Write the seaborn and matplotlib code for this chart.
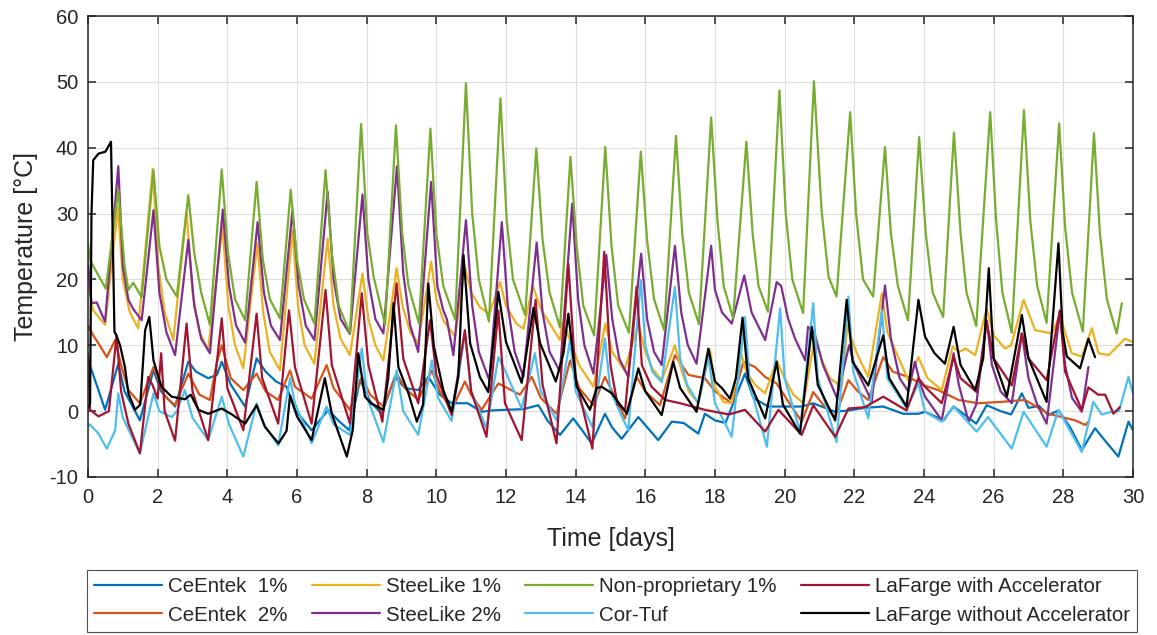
import matplotlib
matplotlib.use("Agg")
import matplotlib.pyplot as plt
import pandas as pd
import seaborn as sns
from matplotlib.lines import Line2D

# ---------------------------------------------------------------------------
# Temperature records (time in days, temperature in degC) for each concrete mix
# ---------------------------------------------------------------------------
ceentek1_t = [0.0, 0.05, 0.3, 0.49, 0.87, 1.05, 1.49, 1.88, 2.1, 2.5, 2.88, 3.1, 3.45, 3.7, 3.84,
              4.1, 4.51, 4.84, 5.1, 5.4, 5.7, 5.94, 6.42, 6.9, 7.2, 7.5, 7.81, 8.1, 8.43, 8.81,
              9.1, 9.48, 9.77, 10.1, 10.44, 10.9, 11.3, 11.6, 11.97, 12.5, 12.93, 13.2, 13.55,
              13.93, 14.2, 14.46, 14.84, 15.05, 15.32, 15.8, 16.37, 16.76, 17.1, 17.52, 17.71,
              18.0, 18.3, 18.86, 19.1, 19.53, 20.0, 20.5, 20.82, 21.45, 21.83, 22.3, 22.83,
              23.4, 23.84, 24.03, 24.56, 24.85, 25.5, 25.8, 26.2, 26.5, 26.81, 27.0, 27.3,
              27.57, 27.86, 28.2, 28.53, 28.91, 29.2, 29.58, 29.87, 30.0]
ceentek1_v = [8.0, 7.0, 3.2, 0.2, 7.2, 3.0, -1.4, 6.2, 3.0, 0.7, 7.5, 6.0, 5.0, 5.5, 7.5,
              4.0, 0.7, 8.0, 6.0, 4.5, 3.7, 0.2, -2.9, 0.2, -1.5, -2.9, 4.7, 1.5, -0.4, 5.2,
              3.5, 3.2, 5.2, 2.5, 1.2, 1.2, -0.1, 0.1, 0.2, 0.3, 0.9, -1.5, -3.6,
              -1.1, -3.0, -4.9, -0.4, -2.5, -4.2, -0.9, -4.4, -1.6, -1.8, -3.4, -0.4,
              -1.4, -1.8, 5.7, 2.0, 0.7, 0.7, 0.7, 1.2, -0.1, 0.1, 0.5, 0.7,
              -0.4, -0.4, -0.1, -1.4, 0.7, -1.9, 0.9, 0.0, -0.5, 2.7, 0.5, 0.8,
              -0.6, 0.1, -2.5, -5.9, -2.6, -4.5, -6.9, -1.6, -2.9]

ceentek2_t = [0.0, 0.15, 0.3, 0.54, 0.78, 0.95, 1.16, 1.49, 1.88, 2.21, 2.5, 2.88, 3.2, 3.5, 3.69,
              3.84, 4.1, 4.46, 4.84, 5.1, 5.46, 5.8, 5.94, 6.42, 6.85, 7.05, 7.52, 7.86, 8.1,
              8.48, 8.86, 9.1, 9.48, 9.87, 10.1, 10.44, 10.82, 11.0, 11.3, 11.78, 11.97, 12.4,
              12.74, 13.0, 13.45, 13.84, 14.1, 14.51, 14.84, 15.05, 15.42, 15.75, 16.0, 16.42,
              16.85, 17.24, 17.71, 18.0, 18.48, 18.82, 19.15, 19.44, 19.77, 20.1, 20.49, 20.82,
              21.1, 21.45, 21.83, 22.1, 22.4, 22.83, 23.1, 23.55, 24.0, 24.41, 24.99, 25.56,
              26.2, 26.9, 27.57, 28.34, 28.63, 28.72]
ceentek2_v = [13.0, 11.5, 10.3, 8.2, 10.8, 7.0, 3.2, 1.2, 6.7, 2.2, 0.9, 5.7, 2.5, 1.7, 7.2,
              10.0, 5.0, 3.2, 5.7, 3.0, 1.7, 6.2, 3.7, 1.9, 7.0, 3.5, 0.2, 5.2, 2.5,
              0.7, 5.7, 3.5, 1.7, 6.2, 3.0, 0.2, 4.5, 2.5, 0.2, 4.2, 3.7, 2.5,
              5.2, 2.0, -0.4, 7.7, 3.5, 0.9, 5.2, 3.0, -1.1, 5.2, 3.0, 0.9,
              8.5, 5.5, 5.0, 3.0, 1.2, 7.5, 6.7, 5.2, 4.2, 1.5, -1.6, 2.9,
              1.0, -0.9, 4.7, 3.0, 1.7, 8.2, 6.0, 5.2, 3.9, 3.2, 1.7, 1.2,
              1.4, 1.7, -0.4, -1.4, -2.1, -1.6]

steelike1_t = [0.0, 0.15, 0.49, 0.86, 1.0, 1.2, 1.44, 1.86, 2.02, 2.2, 2.45, 2.83, 3.0, 3.2, 3.45,
               3.86, 4.03, 4.22, 4.46, 4.86, 5.03, 5.22, 5.51, 5.87, 6.03, 6.22, 6.5, 6.88, 7.05,
               7.25, 7.52, 7.88, 8.05, 8.25, 8.48, 8.86, 9.03, 9.25, 9.48, 9.85, 10.0, 10.2,
               10.54, 10.82, 11.0, 11.25, 11.52, 11.83, 12.0, 12.3, 12.5, 12.77, 13.0, 13.26,
               13.55, 13.62, 13.75, 14.1, 14.51, 14.85, 15.05, 15.4, 15.8, 16.0, 16.2, 16.47,
               16.85, 17.05, 17.25, 17.52, 17.86, 18.0, 18.24, 18.48, 18.72, 18.9, 19.15, 19.44,
               19.77, 20.0, 20.25, 20.54, 20.87, 21.05, 21.3, 21.64, 21.8, 21.95, 22.12, 22.4,
               22.79, 22.95, 23.17, 23.55, 23.84, 24.1, 24.51, 24.82, 25.0, 25.2, 25.47, 25.8,
               26.0, 26.33, 26.5, 26.86, 27.19, 27.67, 27.9, 28.24, 28.53, 28.82, 29.01, 29.3,
               29.77, 30.0]
steelike1_v = [19.4, 15.3, 13.1, 31.0, 20.0, 15.0, 12.6, 36.8, 22.0, 15.0, 10.8, 30.3, 18.0, 12.0, 9.3,
               28.0, 16.0, 10.0, 6.5, 25.5, 15.0, 9.0, 6.2, 27.5, 16.0, 10.0, 7.2, 26.2, 16.0,
               11.0, 8.5, 20.9, 14.0, 10.0, 7.7, 21.7, 16.0, 12.0, 10.3, 22.7, 17.0, 13.8,
               11.3, 21.9, 18.0, 15.8, 14.7, 19.6, 16.0, 13.3, 12.5, 19.0, 15.5, 13.3,
               10.8, 13.5, 12.0, 7.0, 3.7, 13.3, 9.0, 6.2, 13.3, 9.0, 6.5, 4.7,
               10.0, 6.0, 3.0, 1.2, 9.3, 3.7, 1.4, 1.2, 9.3, 6.0, 4.0, 2.7,
               7.7, 5.0, 2.5, 1.2, 11.3, 8.0, 5.0, 3.7, 13.0, 10.5, 8.2, 5.2,
               17.9, 12.0, 9.3, 4.7, 8.2, 5.0, 3.2, 9.8, 9.0, 9.5, 8.5, 15.6,
               11.5, 9.5, 10.0, 16.9, 12.3, 11.8, 14.5, 8.8, 8.3, 12.6, 8.8, 8.5,
               11.0, 10.5]

steelike2_t = [0.0, 0.1, 0.25, 0.49, 0.87, 1.0, 1.16, 1.3, 1.54, 1.88, 2.05, 2.25, 2.5, 2.88, 3.05,
               3.25, 3.5, 3.87, 4.05, 4.25, 4.51, 4.87, 5.05, 5.25, 5.51, 5.87, 6.05, 6.25, 6.5,
               6.88, 7.05, 7.25, 7.52, 7.88, 8.05, 8.25, 8.48, 8.87, 9.05, 9.25, 9.48, 9.85,
               10.03, 10.2, 10.3, 10.49, 10.85, 11.03, 11.22, 11.52, 11.88, 12.05, 12.25, 12.5,
               12.88, 13.05, 13.25, 13.55, 13.9, 14.07, 14.25, 14.51, 14.88, 15.05, 15.25, 15.51,
               15.88, 16.05, 16.25, 16.47, 16.85, 17.03, 17.22, 17.47, 17.89, 18.0, 18.2, 18.48,
               18.84, 19.05, 19.44, 19.77, 19.9, 20.1, 20.3, 20.59, 20.67, 20.85, 21.1, 21.5,
               21.85, 22.0, 22.5, 22.88, 23.05, 23.3, 23.55, 23.74, 23.9, 24.03, 24.51, 24.85,
               25.0, 25.28, 25.5, 25.8, 25.95, 26.2, 26.52, 26.81, 27.0, 27.25, 27.52, 27.9,
               28.05, 28.25, 28.53, 28.72]
steelike2_v = [22.7, 16.4, 16.5, 13.6, 37.2, 22.0, 16.9, 15.5, 13.8, 30.5, 18.0, 12.0, 8.5, 26.0, 16.0,
               11.0, 8.8, 30.6, 19.0, 13.0, 10.4, 28.7, 18.0, 13.0, 10.8, 30.5, 19.0, 13.0, 10.8,
               33.3, 20.0, 14.0, 11.7, 32.9, 20.0, 14.0, 11.8, 37.2, 21.0, 13.0, 9.0, 34.8,
               19.0, 15.3, 14.0, 8.5, 29.0, 16.0, 9.0, 4.7, 28.7, 16.0, 9.0, 5.2,
               25.6, 15.0, 9.0, 6.0, 31.5, 17.0, 10.0, 5.7, 23.7, 14.0, 8.0, 5.2,
               23.9, 14.0, 9.0, 7.0, 25.1, 15.0, 10.0, 7.2, 25.1, 18.4, 15.0, 13.3,
               20.6, 15.0, 10.8, 19.6, 19.0, 14.0, 11.0, 7.7, 12.8, 12.0, 7.0, 2.0,
               10.0, 7.0, 1.5, 19.1, 11.0, 5.0, 3.0, 7.5, 4.0, 2.2, -1.4, 8.8,
               4.0, -1.6, 1.0, 13.8, 7.0, 3.0, 1.2, 11.8, 5.0, 1.0, -1.9, 15.1,
               7.0, 2.0, -0.1, 6.7]

nonprop1_t = [0.0, 0.05, 0.51, 0.87, 1.05, 1.16, 1.3, 1.54, 1.88, 2.05, 2.25, 2.55, 2.88, 3.05, 3.25,
              3.5, 3.84, 4.02, 4.22, 4.51, 4.84, 5.02, 5.22, 5.51, 5.82, 6.0, 6.2, 6.5, 6.82,
              7.0, 7.2, 7.52, 7.84, 8.02, 8.2, 8.53, 8.84, 9.02, 9.2, 9.5, 9.83, 10.0, 10.2,
              10.54, 10.85, 11.03, 11.22, 11.51, 11.84, 12.02, 12.2, 12.55, 12.87, 13.05, 13.25,
              13.55, 13.85, 14.03, 14.22, 14.53, 14.85, 15.03, 15.22, 15.53, 15.87, 16.05, 16.25,
              16.54, 16.88, 17.06, 17.25, 17.54, 17.89, 18.07, 18.25, 18.52, 18.9, 19.08, 19.25,
              19.52, 19.85, 20.03, 20.22, 20.53, 20.84, 21.06, 21.26, 21.49, 21.88, 22.05, 22.25,
              22.54, 22.88, 23.05, 23.25, 23.54, 23.86, 24.05, 24.25, 24.55, 24.86, 25.05, 25.22,
              25.5, 25.9, 26.07, 26.25, 26.52, 26.87, 27.05, 27.25, 27.52, 27.88, 28.05, 28.25,
              28.56, 28.88, 29.05, 29.25, 29.53, 29.68]
nonprop1_v = [25.5, 23.0, 18.6, 33.6, 22.0, 18.4, 19.5, 17.3, 36.6, 25.0, 20.0, 17.4, 32.8, 24.0, 18.0,
              13.1, 36.7, 24.0, 17.0, 13.8, 34.8, 23.0, 17.0, 14.1, 33.6, 23.0, 17.0, 13.3, 36.6,
              24.0, 16.0, 11.8, 43.6, 27.0, 20.4, 13.1, 43.4, 27.0, 19.0, 13.3, 42.9, 27.0, 19.0,
              13.9, 49.8, 30.0, 20.0, 13.6, 47.5, 29.0, 20.0, 14.6, 39.9, 26.0, 18.0,
              12.7, 38.6, 25.0, 16.0, 11.5, 40.1, 25.0, 16.0, 11.9, 39.4, 26.0, 17.0,
              12.3, 41.8, 27.0, 18.0, 13.2, 44.6, 29.0, 19.0, 14.1, 40.9, 27.0, 19.0,
              15.1, 48.7, 30.0, 20.0, 14.9, 50.1, 30.5, 20.4, 17.4, 45.4, 30.0, 20.0,
              17.4, 40.1, 27.0, 19.0, 13.8, 41.6, 27.0, 18.0, 14.3, 42.3, 27.0, 18.0,
              12.9, 45.4, 29.0, 18.0, 11.9, 45.7, 29.0, 19.0, 13.4, 43.7, 28.0, 18.0,
              12.1, 42.2, 27.0, 17.0, 11.8, 16.4]

cortuf_t = [0.0, 0.05, 0.3, 0.54, 0.78, 0.87, 1.0, 1.49, 1.88, 2.05, 2.4, 2.55, 2.78, 3.0, 3.45,
            3.84, 4.05, 4.46, 4.84, 5.05, 5.46, 5.8, 5.94, 6.42, 6.85, 7.05, 7.52, 7.86, 8.02,
            8.48, 8.86, 9.05, 9.48, 9.87, 10.05, 10.44, 10.82, 11.0, 11.44, 11.78, 11.97, 12.45,
            12.83, 13.0, 13.45, 13.84, 14.0, 14.48, 14.84, 15.0, 15.51, 15.87, 16.0, 16.2, 16.47,
            16.85, 17.0, 17.2, 17.52, 17.81, 18.0, 18.48, 18.86, 19.0, 19.49, 19.87, 20.0, 20.44,
            20.82, 20.95, 21.49, 21.83, 21.97, 22.4, 22.79, 22.95, 23.5, 23.84, 24.03, 24.51,
            24.85, 25.51, 25.84, 26.52, 26.86, 27.52, 27.86, 28.53, 28.86, 29.1, 29.4, 29.6,
            29.87, 30.0]
cortuf_v = [-2.4, -2.0, -3.4, -5.7, -2.9, 2.7, -1.0, -6.4, 2.7, 0.0, -0.9, 0.0, 3.2, -1.0, -4.4,
            2.2, -2.0, -6.9, 1.2, -2.0, -5.2, 5.0, 1.2, -4.9, 0.7, -2.0, -3.6, 9.5, 2.0,
            -4.7, 6.2, 0.0, -3.6, 7.7, 2.0, -1.5, 11.8, 3.0, -2.6, 8.2, 6.2, 0.4,
            8.8, 3.0, -1.4, 10.8, 3.0, -2.4, 11.0, 3.0, -2.9, 19.9, 10.0, 6.0, 4.4,
            18.9, 8.0, 4.0, 1.2, 8.2, 1.2, -3.9, 14.3, 4.0, -5.4, 15.6, 5.0, -3.1,
            16.4, 5.0, -4.7, 17.4, 6.0, -1.1, 15.3, 5.0, 0.4, 4.2, -0.1, -1.6,
            0.7, -3.1, -0.9, -5.7, -0.1, -5.4, 0.2, -6.2, 1.4, -0.5, -0.1, 0.0,
            5.2, 2.7]

lafarge_acc_t = [0.0, 0.06, 0.3, 0.6, 0.82, 0.95, 1.16, 1.49, 1.73, 1.85, 2.0, 2.1, 2.2, 2.5, 2.83,
                 3.0, 3.45, 3.84, 4.0, 4.46, 4.84, 5.0, 5.46, 5.77, 5.94, 6.42, 6.82, 7.0, 7.52,
                 7.86, 8.05, 8.45, 8.86, 9.05, 9.48, 9.82, 10.0, 10.44, 10.82, 11.0, 11.44, 11.78,
                 11.97, 12.45, 12.85, 13.05, 13.45, 13.79, 14.0, 14.48, 14.82, 15.0, 15.2, 15.42,
                 15.75, 15.9, 16.18, 16.57, 17.0, 17.71, 18.0, 18.4, 18.86, 19.44, 19.82, 20.49,
                 20.82, 21.45, 21.83, 22.3, 22.83, 23.5, 23.84, 24.03, 24.51, 24.85, 25.05, 25.51,
                 25.8, 26.0, 26.52, 26.81, 27.0, 27.52, 27.9, 28.05, 28.53, 28.72, 29.0, 29.2,
                 29.44, 29.62]
lafarge_acc_v = [8.8, 0.2, -0.8, 0.0, 11.5, 3.0, -1.9, -6.4, 5.2, 4.0, 1.9, 8.8, 0.0, -4.5, 13.3,
                 3.0, -4.4, 14.1, 3.5, -2.9, 14.8, 5.0, -1.9, 15.3, 6.7, -1.9, 18.4, 7.0, -1.9,
                 17.9, 7.0, -1.6, 19.4, 8.0, 1.2, 13.8, 5.5, -0.6, 12.3, 3.0, -3.9, 15.3,
                 1.2, -4.4, 16.9, 4.0, -4.9, 22.4, 5.0, -5.7, 24.2, 7.0, 1.0, 0.2,
                 18.9, 7.0, 3.7, 1.7, 1.2, 0.2, -0.1, -0.5, 0.2, -3.1, 0.2, -3.6,
                 0.9, -3.9, 0.4, 0.6, 2.2, 0.1, 5.0, 3.7, 1.2, 8.2, 5.0, 2.9,
                 13.6, 8.0, 3.9, 11.8, 8.0, 4.7, 15.3, 6.0, 0.2, 3.6, 2.5, 2.5,
                 -0.4, 0.6]

lafarge_noacc_t = [0.0, 0.06, 0.1, 0.15, 0.3, 0.5, 0.66, 0.76, 0.8, 0.92, 1.06, 1.16, 1.35, 1.5, 1.64,
                   1.76, 1.88, 2.11, 2.4, 2.78, 2.95, 3.17, 3.45, 3.84, 4.13, 4.51, 4.84, 5.08, 5.47,
                   5.7, 5.8, 6.0, 6.42, 6.8, 7.0, 7.43, 7.6, 7.76, 7.95, 8.12, 8.48, 8.62, 8.77,
                   8.91, 9.2, 9.44, 9.62, 9.77, 9.93, 10.2, 10.44, 10.63, 10.78, 10.97, 11.25, 11.49,
                   11.78, 12.0, 12.45, 12.79, 12.98, 13.43, 13.65, 13.79, 14.03, 14.41, 14.6, 14.75,
                   15.04, 15.47, 15.8, 16.0, 16.47, 16.8, 17.0, 17.47, 17.81, 18.0, 18.2, 18.43,
                   18.6, 18.79, 18.95, 19.44, 19.77, 19.95, 20.44, 20.78, 20.95, 21.45, 21.78, 21.95,
                   22.4, 22.83, 23.0, 23.5, 23.84, 24.03, 24.3, 24.6, 24.85, 25.05, 25.47, 25.7,
                   25.86, 26.0, 26.38, 26.81, 27.0, 27.52, 27.86, 27.98, 28.1, 28.48, 28.72, 28.91]
lafarge_noacc_v = [0.5, 1.2, 30.0, 38.1, 39.1, 39.4, 40.9, 12.0, 11.7, 10.0, 6.7, 2.7, 0.2, 1.0, 12.3,
                   14.3, 7.7, 3.7, 2.2, 1.8, 2.5, 0.2, -0.4, 0.4, -0.5, -1.9, 0.9, -2.4, -4.9,
                   -3.0, 2.4, -0.8, -4.4, 5.0, -0.4, -6.9, -2.9, 8.8, 2.2, 1.2, 0.2, 5.0, 16.4,
                   6.7, 2.7, -1.6, 1.0, 19.4, 9.8, 3.2, -0.1, 5.2, 23.7, 10.3, 5.2, 2.9,
                   18.1, 10.5, 4.3, 15.7, 10.3, 4.5, 8.8, 14.8, 3.7, 0.2, 3.5, 3.7,
                   2.7, -0.4, 6.5, 3.0, -0.6, 7.5, 3.5, -0.1, 9.5, 4.5, 3.5, 1.9,
                   5.0, 14.2, 5.0, -1.1, 7.5, 1.0, -3.4, 12.8, 4.0, -1.4, 16.9, 7.5,
                   3.9, 11.5, 5.0, 0.7, 16.9, 11.3, 8.8, 7.2, 12.8, 7.0, 3.2, 8.0,
                   21.7, 8.0, 2.2, 14.6, 8.0, 1.4, 25.5, 12.0, 8.3, 6.5, 11.0, 8.2]

mix_names = ["CeEntek  1%", "CeEntek  2%", "SteeLike 1%", "SteeLike 2%",
             "Non-proprietary 1%", "Cor-Tuf", "LaFarge with Accelerator",
             "LaFarge without Accelerator"]
mix_colors = ["#0072BD", "#D95319", "#EDB120", "#7E2F8E",
              "#77AC30", "#4DBEEE", "#A2142F", "#000000"]
mix_data = [(ceentek1_t, ceentek1_v), (ceentek2_t, ceentek2_v),
            (steelike1_t, steelike1_v), (steelike2_t, steelike2_v),
            (nonprop1_t, nonprop1_v), (cortuf_t, cortuf_v),
            (lafarge_acc_t, lafarge_acc_v), (lafarge_noacc_t, lafarge_noacc_v)]

x_ticks = list(range(0, 31, 2))
y_ticks = list(range(-10, 61, 10))

# long-format table for seaborn
df = pd.concat(
    [pd.DataFrame({"Time": t, "Temperature": v, "Mix": name})
     for name, (t, v) in zip(mix_names, mix_data)],
    ignore_index=True)
palette = dict(zip(mix_names, mix_colors))

sns.set_style("ticks")
plt.rcParams["font.family"] = ["Liberation Sans", "DejaVu Sans"]
plt.rcParams["axes.unicode_minus"] = False
axis_color = "#262626"

W, H = 1157, 635
fig = plt.figure(figsize=(W / 100, H / 100), dpi=100)
ax = fig.add_axes([88 / W, 1 - 477 / H, (1133 - 88) / W, (477 - 16) / H])

sns.lineplot(data=df, x="Time", y="Temperature", hue="Mix", hue_order=mix_names,
             palette=palette, estimator=None, sort=False, linewidth=1.6,
             legend=False, ax=ax)

ax.set_xlim(0, 30)
ax.set_ylim(-10, 60)
ax.set_xticks(x_ticks)
ax.set_yticks(y_ticks)
ax.grid(True, color="#dedede", linewidth=0.8)
ax.set_axisbelow(True)
for s in ax.spines.values():
    s.set_visible(True)
    s.set_color(axis_color)
    s.set_linewidth(1.1)
ax.tick_params(direction="in", length=6, width=1.1, color=axis_color,
               top=True, right=True, labelsize=14.5, labelcolor=axis_color)
ax.tick_params(axis="x", pad=8)
ax.tick_params(axis="y", pad=7)
ax.set_xlabel("Time [days]", fontsize=18, color=axis_color, labelpad=14)
ax.set_ylabel("Temperature [°C]", fontsize=18, color=axis_color, labelpad=8)

handles = [Line2D([], [], color=c, linewidth=1.6) for c in mix_colors]
leg = fig.legend(handles, mix_names, loc="center", ncol=4, mode="expand",
                 bbox_to_anchor=(87 / W, 1 - 633 / H, (1137 - 87) / W, 64 / H),
                 fontsize=14.8, handlelength=3.3, handletextpad=0.3,
                 frameon=True, fancybox=False, borderaxespad=0.0,
                 labelspacing=0.45, borderpad=0.35)
leg.get_frame().set_edgecolor(axis_color)
leg.get_frame().set_linewidth(0.8)
for txt in leg.get_texts():
    txt.set_color(axis_color)

fig.savefig("out.png", dpi=100)
